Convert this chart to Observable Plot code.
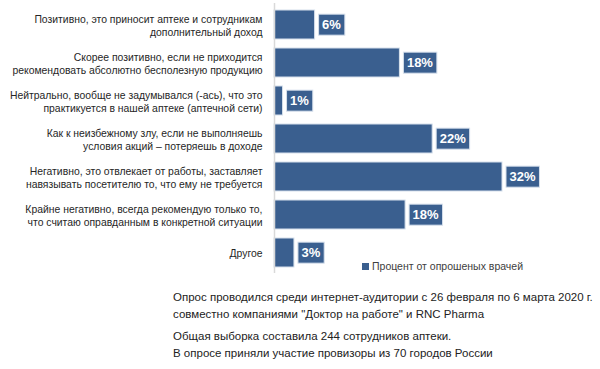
<!DOCTYPE html>
<html>
<head>
<meta charset="utf-8">
<script src="https://cdn.jsdelivr.net/npm/d3@7"></script>
<script src="https://cdn.jsdelivr.net/npm/@observablehq/plot@0.6"></script>
<style>
  body { margin: 0; background: #fff; font-family: "Liberation Sans", Arial, sans-serif; }
  #wrap { position: relative; width: 600px; height: 369px; }
  #legend { position: absolute; left: 362px; top: 260px; font-size: 10.5px; color: #404040; display: flex; align-items: center; gap: 3px; }
  #legend .sw { width: 7px; height: 7px; background: #3a5f8f; }
  #foot { padding-left: 173px; font-size: 11.5px; color: #222; line-height: 17px; margin-top: 13px; }
  #foot p { margin: 0 0 5px 0; }
</style>
</head>
<body>
<div id="wrap">
  <div id="chart"></div>
  <div id="legend"><div class="sw"></div><span id="legendText"></span></div>
  <div id="foot"></div>
</div>
<script>
const categories = [
  "Позитивно, это приносит аптеке и сотрудникам\nдополнительный доход",
  "Скорее позитивно, если не приходится\nрекомендовать абсолютно бесполезную продукцию",
  "Нейтрально, вообще не задумывался (-ась), что это\nпрактикуется в нашей аптеке (аптечной сети)",
  "Как к неизбежному злу, если не выполняешь\nусловия акций – потеряешь в доходе",
  "Негативно, это отвлекает от работы, заставляет\nнавязывать посетителю то, что ему не требуется",
  "Крайне негативно, всегда рекомендую только то,\nчто считаю оправданным в конкретной ситуации",
  "Другое"
];
const values = [5.7, 17.6, 1.2, 22.2, 32.0, 18.4, 2.8];
const seriesName = "Процент от опрошеных врачей";
const footLines = [
  ["Опрос проводился среди интернет-аудитории с 26 февраля по 6 марта 2020 г.",
   "совместно компаниями \"Доктор на работе\" и RNC Pharma"],
  ["Общая выборка составила 244 сотрудников аптеки.",
   "В опросе приняли участие провизоры из 70 городов России"]
];

const data = categories.map((c, i) => ({category: c, value: values[i]}));
const barColor = "#3a5f8f";

const plot = Plot.plot({
  width: 600,
  height: 276,
  marginLeft: 274,
  marginRight: 41,
  marginTop: 3,
  marginBottom: 3,
  style: {fontFamily: "'Liberation Sans', Arial, sans-serif", background: "#fff"},
  x: {domain: [0, 40], axis: null},
  y: {domain: categories, paddingInner: 0.25, paddingOuter: 0.125, label: null},
  marks: [
    Plot.axisY({tickSize: 0, tickPadding: 12, fontSize: 10.4, lineHeight: 1.3, color: "#262626", label: null}),
    Plot.barX(data, {x: "value", y: "category", fill: barColor, stroke: "#d6e0ec", strokeWidth: 1}),
    Plot.ruleX([0], {stroke: "#d9d9d9", strokeWidth: 1.5}),
    Plot.text(data, {x: "value", y: "category", text: d => d3.format(".0f")(d.value) + "%", dx: 7, textAnchor: "start", fill: "white", fontWeight: "bold", fontSize: 13})
  ]
});
document.getElementById("chart").appendChild(plot);

// background boxes behind value labels
d3.select(plot).selectAll('g[aria-label="text"] text').each(function() {
  const bb = this.getBBox();
  const cy = bb.y + bb.height / 2;
  d3.select(this.parentNode).insert("rect", () => this)
    .attr("transform", this.getAttribute("transform"))
    .attr("x", bb.x - 3.5).attr("y", cy - 10.5)
    .attr("width", bb.width + 7).attr("height", 21)
    .attr("fill", barColor).attr("stroke", "#d6e0ec").attr("stroke-width", 1);
});

document.getElementById("legendText").textContent = seriesName;
const foot = document.getElementById("foot");
footLines.forEach(par => {
  const p = document.createElement("p");
  par.forEach((l, i) => { if (i) p.appendChild(document.createElement("br")); p.appendChild(document.createTextNode(l)); });
  foot.appendChild(p);
});
</script>
</body>
</html>
